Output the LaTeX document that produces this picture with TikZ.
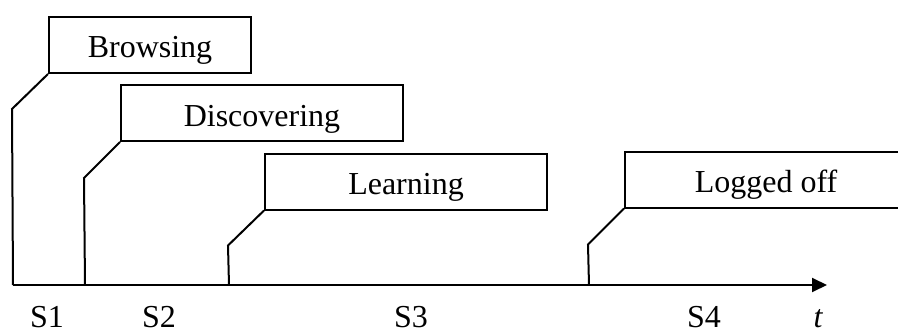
\documentclass[tikz,border=0pt]{standalone}
\usepackage{fontspec}
\setmainfont{Liberation Serif}
\usetikzlibrary{arrows.meta}
\begin{document}
\begin{tikzpicture}[x=1pt,y=-1pt,
  statebox/.style={draw,line width=2pt,inner sep=0pt,minimum height=56pt,text height=26pt,text depth=0pt,font=\fontsize{32}{38}\selectfont},
  lbl/.style={font=\fontsize{32}{38}\selectfont,inner sep=0pt,anchor=base},
  conn/.style={line width=2pt,line join=miter}]
\useasboundingbox (0,0) rectangle (898,329);
\clip (0,0) rectangle (898,329);
\node[statebox,minimum width=202pt] (b) at (150,45) {Browsing};
\node[statebox,minimum width=282pt] (d) at (262,113) {Discovering};
\node[statebox,minimum width=282pt] (l) at (406,181.5) {Learning};
\node[statebox,minimum width=282pt] (o) at (766,179.5) {Logged off};
\coordinate (a0) at (13,285);
\coordinate (a1) at (85,285);
\coordinate (a2) at (229,285);
\coordinate (a3) at (589,285);
\coordinate (aend) at (827,285);
\draw[conn] (b.south west) -- ++(-36,35) -- (a0);
\draw[conn] (d.south west) -- ++(-36,36) -- (a1);
\draw[conn] (l.south west) -- ++(-36,35) -- (a2);
\draw[conn] (o.south west) -- ++(-36,36) -- (a3);
\draw[conn,-{Triangle[length=15pt,width=14pt]}] (a0) -- (aend);
\node[lbl] (s1) at (47,327) {S1};
\node[lbl] (s2) at (159,327) {S2};
\node[lbl] (s3) at (411,327) {S3};
\node[lbl] (s4) at (704,327) {S4};
\node[lbl] (t) at (818,327) {\itshape t};
\end{tikzpicture}
\end{document}
